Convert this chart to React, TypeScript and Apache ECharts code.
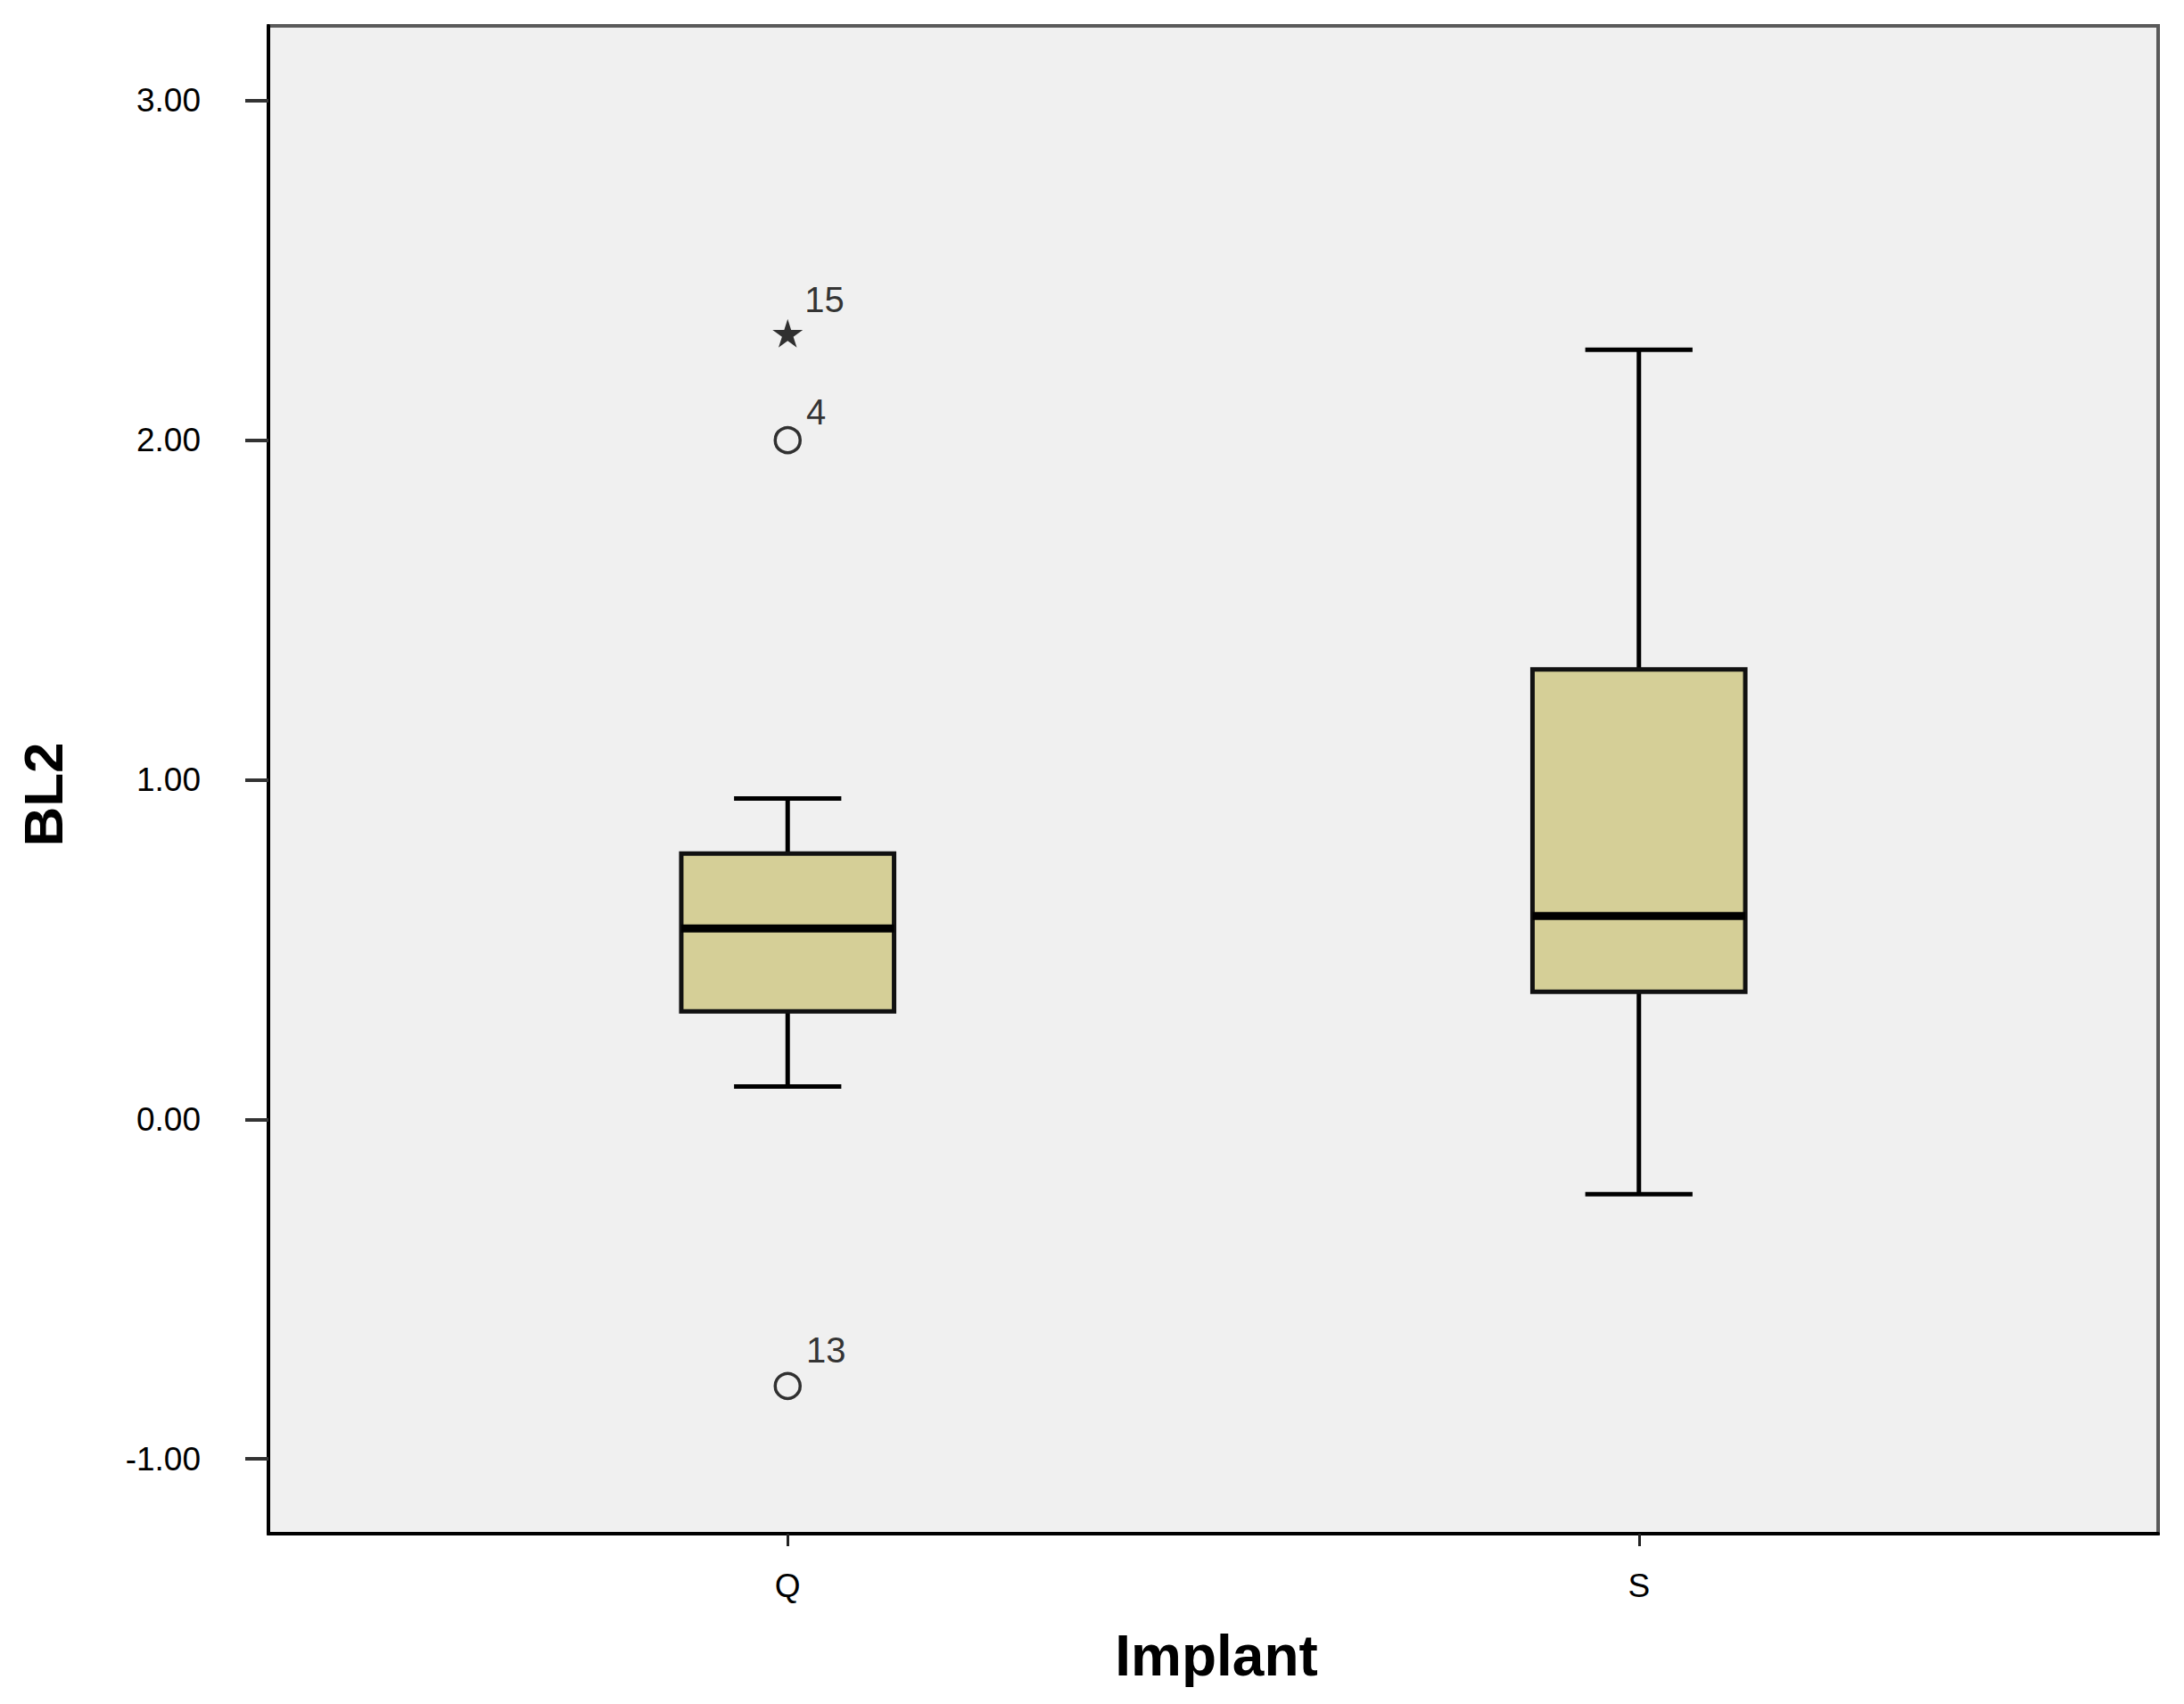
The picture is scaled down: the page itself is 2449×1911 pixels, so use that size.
import React, { useEffect, useRef } from "react";
import * as echarts from "echarts";

// ---- data ----
const categories = ["Q", "S"];
const categoryPos = [1, 2];
const whiskerLow = [0.097, -0.22];
const q1 = [0.318, 0.376];
const median = [0.562, 0.599];
const q3 = [0.783, 1.325];
const whiskerHigh = [0.945, 2.266];

const outlierCategory = ["Q", "Q", "Q"];
const outlierValues = [2.315, 2.0, -0.785];
const outlierCases = ["15", "4", "13"];
const outlierKind = ["extreme", "outlier", "outlier"];

const yTicks = [-1, 0, 1, 2, 3];

const STAR = "path://M50,0 L61,35 L98,35 L68,57 L79,91 L50,70 L21,91 L32,57 L2,35 L39,35 Z";
const FONT = "Liberation Sans";

export default function App() {
  const ref = useRef<HTMLDivElement>(null);

  useEffect(() => {
    if (!ref.current) return;
    const chart = echarts.init(ref.current, null, { renderer: "svg" });

    const boxData = categories.map((c, i) => [
      categoryPos[i],
      whiskerLow[i],
      q1[i],
      median[i],
      q3[i],
      whiskerHigh[i],
    ]);

    const labelOffsets: Record<string, number[]> = { "15": [0, -38], "4": [3, -32], "13": [3, -40] };

    const outlierData = outlierValues.map((v, i) => {
      const x = categoryPos[categories.indexOf(outlierCategory[i])];
      const extreme = outlierKind[i] === "extreme";
      return {
        value: [x, v],
        symbol: extreme ? STAR : "circle",
        symbolSize: extreme ? [34, 32] : 28,
        itemStyle: extreme
          ? { color: "#000", borderWidth: 0 }
          : { color: "rgba(0,0,0,0)", borderColor: "#000", borderWidth: 3.5 },
        label: {
          show: true,
          formatter: outlierCases[i],
          position: "right",
          distance: 2,
          offset: labelOffsets[outlierCases[i]] || [0, -36],
          fontFamily: FONT,
          fontSize: 40,
          color: "#000",
        },
      };
    });

    const boxWidth = 0.25;
    const capWidth = 0.126;

    chart.setOption({
      animation: false,
      backgroundColor: "#ffffff",
      grid: {
        left: 301,
        top: 29,
        right: 29,
        bottom: 191,
        show: true,
        backgroundColor: "#F0F0F0",
        borderColor: "#5a5a5a",
        borderWidth: 4,
      },
      xAxis: {
        type: "value",
        min: 0.39,
        max: 2.61,
        splitLine: { show: false },
        axisLine: { show: true, onZero: false, lineStyle: { color: "#000", width: 4 } },
        axisTick: {
          show: true,
          customValues: categoryPos,
          length: 14,
          lineStyle: { color: "#222", width: 3 },
        },
        axisLabel: {
          customValues: categoryPos,
          formatter: (v: number) => categories[categoryPos.indexOf(Math.round(v))] ?? "",
          fontFamily: FONT,
          fontSize: 37,
          color: "#000",
          margin: 40,
        },
      },
      yAxis: {
        type: "value",
        min: -1.22,
        max: 3.22,
        splitLine: { show: false },
        axisLine: { show: true, onZero: false, lineStyle: { color: "#000", width: 4 } },
        axisTick: {
          show: true,
          customValues: yTicks,
          length: 26,
          lineStyle: { color: "#333", width: 4 },
        },
        axisLabel: {
          customValues: yTicks,
          formatter: (v: number) => v.toFixed(2),
          fontFamily: FONT,
          fontSize: 37,
          color: "#000",
          margin: 76,
        },
      },
      graphic: [
        {
          type: "text",
          x: 48,
          y: 891,
          rotation: Math.PI / 2,
          style: {
            text: "BL2",
            fontFamily: FONT,
            fontWeight: "bold",
            fontSize: 62,
            fill: "#000",
            align: "center",
            verticalAlign: "middle",
          },
        },
        {
          type: "text",
          x: 1364,
          y: 1857,
          style: {
            text: "Implant",
            fontFamily: FONT,
            fontWeight: "bold",
            fontSize: 64,
            fill: "#000",
            align: "center",
            verticalAlign: "middle",
          },
        },
      ],
      series: [
        {
          type: "custom",
          data: boxData,
          encode: { x: 0, y: [1, 2, 3, 4, 5] },
          renderItem: (params: any, api: any) => {
            const x = api.value(0);
            const lo = api.coord([x, api.value(1)]);
            const b1 = api.coord([x, api.value(2)]);
            const md = api.coord([x, api.value(3)]);
            const b3 = api.coord([x, api.value(4)]);
            const hi = api.coord([x, api.value(5)]);
            const bw = api.size([boxWidth, 0])[0];
            const cw = api.size([capWidth, 0])[0];
            const cx = lo[0];
            const lineStyle = { stroke: "#000", lineWidth: 5 };
            return {
              type: "group",
              children: [
                { type: "line", shape: { x1: cx, y1: b3[1], x2: cx, y2: hi[1] }, style: lineStyle },
                { type: "line", shape: { x1: cx, y1: b1[1], x2: cx, y2: lo[1] }, style: lineStyle },
                { type: "line", shape: { x1: cx - cw / 2, y1: hi[1], x2: cx + cw / 2, y2: hi[1] }, style: lineStyle },
                { type: "line", shape: { x1: cx - cw / 2, y1: lo[1], x2: cx + cw / 2, y2: lo[1] }, style: lineStyle },
                {
                  type: "rect",
                  shape: { x: cx - bw / 2, y: b3[1], width: bw, height: b1[1] - b3[1] },
                  style: { fill: "#D5CF97", stroke: "#111", lineWidth: 5 },
                },
                {
                  type: "line",
                  shape: { x1: cx - bw / 2, y1: md[1], x2: cx + bw / 2, y2: md[1] },
                  style: { stroke: "#000", lineWidth: 9 },
                },
              ],
            };
          },
          z: 2,
        },
        {
          type: "scatter",
          data: outlierData,
          z: 3,
        },
      ],
    });

    return () => chart.dispose();
  }, []);

  return (
    <div
      ref={ref}
      style={{ position: "fixed", left: 0, top: 0, width: 2449, height: 1911, background: "#fff" }}
    />
  );
}
